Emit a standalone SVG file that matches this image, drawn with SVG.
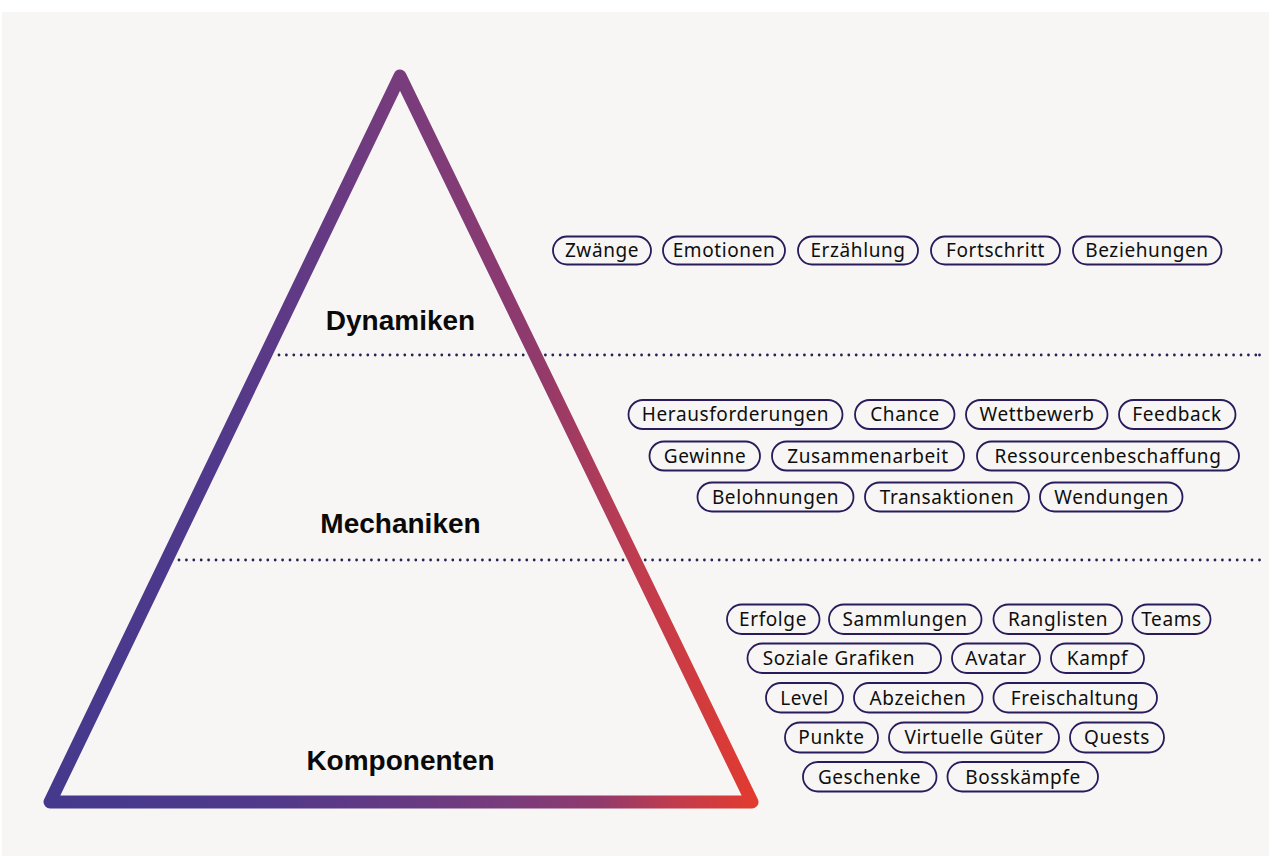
<svg xmlns="http://www.w3.org/2000/svg" width="1269" height="858" viewBox="0 0 1269 858">
<defs>
<linearGradient id="tri" gradientUnits="userSpaceOnUse" x1="47" y1="802" x2="760" y2="700">
<stop offset="0" stop-color="#45398d"/>
<stop offset="0.3" stop-color="#51398b"/>
<stop offset="0.48" stop-color="#643a84"/>
<stop offset="0.63" stop-color="#783c7c"/>
<stop offset="0.76" stop-color="#913a6c"/>
<stop offset="0.86" stop-color="#c03c4e"/>
<stop offset="1" stop-color="#ea3a28"/>
</linearGradient>
<style>
.pill{fill:none;stroke:#2a1b5c;stroke-width:1.8}
.pl{font-family:"Noto Sans","Liberation Sans",sans-serif;font-size:19px;fill:#0e0e0e;text-anchor:middle;letter-spacing:0.6px}
.hd{font-family:"Liberation Sans",Arial,sans-serif;font-size:28px;font-weight:bold;fill:#0a0a0a;text-anchor:middle}
.dots{stroke:#2a2258;stroke-width:2.8;stroke-linecap:round;stroke-dasharray:0 7.4;fill:none}
</style>
</defs>
<rect x="0" y="0" width="1269" height="858" fill="#ffffff"/>
<rect x="2" y="12" width="1267" height="844" fill="#f7f6f4"/>

<g id="connectors">
<line class="dots" x1="279" y1="355" x2="1256" y2="355"/>
<circle cx="1259.5" cy="355" r="1.4" fill="#2a2258"/>
<line class="dots" x1="179" y1="560" x2="1256" y2="560"/>
<circle cx="1259.5" cy="560" r="1.4" fill="#2a2258"/>
</g>

<g id="pyramid">
<path d="M400 76 L752 802 L50 802 Z" fill="none" stroke="url(#tri)" stroke-width="13" stroke-linejoin="round"/>
</g>

<g id="level-dynamiken"><text class="hd" x="400.5" y="330">Dynamiken</text></g>
<g id="level-mechaniken"><text class="hd" x="400.5" y="533">Mechaniken</text></g>
<g id="level-komponenten"><text class="hd" x="400.5" y="770">Komponenten</text></g>

<g id="dynamiken-tags">
<g id="p-zwaenge"><rect class="pill" x="553" y="236.5" width="98" height="28" rx="14"/><text class="pl" x="602" y="257">Zwänge</text></g>
<g id="p-emotionen"><rect class="pill" x="663" y="236.5" width="122" height="28" rx="14"/><text class="pl" x="724" y="257">Emotionen</text></g>
<g id="p-erzaehlung"><rect class="pill" x="798" y="236.5" width="120" height="28" rx="14"/><text class="pl" x="858" y="257">Erzählung</text></g>
<g id="p-fortschritt"><rect class="pill" x="931" y="236.5" width="129" height="28" rx="14"/><text class="pl" x="995.5" y="257">Fortschritt</text></g>
<g id="p-beziehungen"><rect class="pill" x="1073" y="236.5" width="148.5" height="28" rx="14"/><text class="pl" x="1147" y="257">Beziehungen</text></g>
</g>

<g id="mechaniken-tags">
<g id="p-herausforderungen"><rect class="pill" x="628.5" y="400" width="214" height="29" rx="14.5"/><text class="pl" x="735.5" y="421">Herausforderungen</text></g>
<g id="p-chance"><rect class="pill" x="855" y="400" width="99.5" height="29" rx="14.5"/><text class="pl" x="905" y="421">Chance</text></g>
<g id="p-wettbewerb"><rect class="pill" x="966" y="400" width="141.5" height="29" rx="14.5"/><text class="pl" x="1037" y="421">Wettbewerb</text></g>
<g id="p-feedback"><rect class="pill" x="1119" y="400" width="116.5" height="29" rx="14.5"/><text class="pl" x="1177" y="421">Feedback</text></g>
<g id="p-gewinne"><rect class="pill" x="649.5" y="441.5" width="110.5" height="29" rx="14.5"/><text class="pl" x="705" y="462.5">Gewinne</text></g>
<g id="p-zusammenarbeit"><rect class="pill" x="772" y="441.5" width="192" height="29" rx="14.5"/><text class="pl" x="868" y="462.5">Zusammenarbeit</text></g>
<g id="p-ressourcenbeschaffung"><rect class="pill" x="977" y="441.5" width="262" height="29" rx="14.5"/><text class="pl" x="1108" y="462.5">Ressourcenbeschaffung</text></g>
<g id="p-belohnungen"><rect class="pill" x="697.5" y="482.5" width="156" height="29" rx="14.5"/><text class="pl" x="775.5" y="503.5">Belohnungen</text></g>
<g id="p-transaktionen"><rect class="pill" x="865" y="482.5" width="164" height="29" rx="14.5"/><text class="pl" x="947" y="503.5">Transaktionen</text></g>
<g id="p-wendungen"><rect class="pill" x="1040" y="482.5" width="142.5" height="29" rx="14.5"/><text class="pl" x="1111.5" y="503.5">Wendungen</text></g>
</g>

<g id="komponenten-tags">
<g id="p-erfolge"><rect class="pill" x="727" y="604.5" width="92.5" height="29.5" rx="14.75"/><text class="pl" x="773" y="626">Erfolge</text></g>
<g id="p-sammlungen"><rect class="pill" x="829" y="604.5" width="152.5" height="29.5" rx="14.75"/><text class="pl" x="905" y="626">Sammlungen</text></g>
<g id="p-ranglisten"><rect class="pill" x="993.5" y="604.5" width="128.5" height="29.5" rx="14.75"/><text class="pl" x="1058" y="626">Ranglisten</text></g>
<g id="p-teams"><rect class="pill" x="1132.5" y="604.5" width="78" height="29.5" rx="14.75"/><text class="pl" x="1171.5" y="626">Teams</text></g>
<g id="p-soziale-grafiken"><rect class="pill" x="747.5" y="643.5" width="193.5" height="29.5" rx="14.75"/><text class="pl" x="839" y="665">Soziale Grafiken</text></g>
<g id="p-avatar"><rect class="pill" x="952" y="643.5" width="88" height="29.5" rx="14.75"/><text class="pl" x="996" y="665">Avatar</text></g>
<g id="p-kampf"><rect class="pill" x="1051" y="643.5" width="93" height="29.5" rx="14.75"/><text class="pl" x="1097.5" y="665">Kampf</text></g>
<g id="p-level"><rect class="pill" x="766" y="683" width="77" height="29.5" rx="14.75"/><text class="pl" x="804.5" y="704.5">Level</text></g>
<g id="p-abzeichen"><rect class="pill" x="854" y="683" width="128.5" height="29.5" rx="14.75"/><text class="pl" x="918" y="704.5">Abzeichen</text></g>
<g id="p-freischaltung"><rect class="pill" x="993.5" y="683" width="163.5" height="29.5" rx="14.75"/><text class="pl" x="1075" y="704.5">Freischaltung</text></g>
<g id="p-punkte"><rect class="pill" x="785" y="722.5" width="93" height="30" rx="15"/><text class="pl" x="831.5" y="744">Punkte</text></g>
<g id="p-virtuelle-gueter"><rect class="pill" x="889" y="722.5" width="170" height="30" rx="15"/><text class="pl" x="974" y="744">Virtuelle Güter</text></g>
<g id="p-quests"><rect class="pill" x="1070" y="722.5" width="94" height="30" rx="15"/><text class="pl" x="1117" y="744">Quests</text></g>
<g id="p-geschenke"><rect class="pill" x="803" y="762" width="133.5" height="29.5" rx="14.75"/><text class="pl" x="869.5" y="783.5">Geschenke</text></g>
<g id="p-bosskaempfe"><rect class="pill" x="947.5" y="762" width="150.5" height="29.5" rx="14.75"/><text class="pl" x="1023" y="783.5">Bosskämpfe</text></g>
</g>
</svg>
